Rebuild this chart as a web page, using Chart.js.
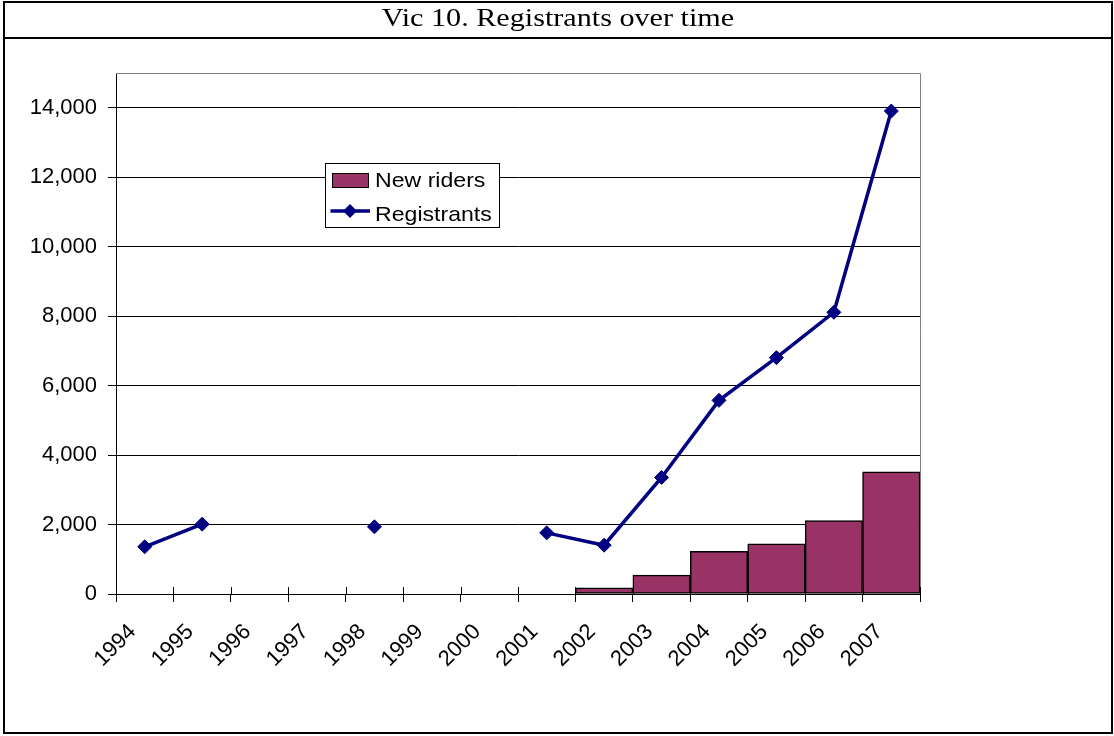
<!DOCTYPE html>
<html>
<head>
<meta charset="utf-8">
<script src="https://cdn.jsdelivr.net/npm/chart.js@4"></script>
<style>
  body { margin: 0; background: #fff; }
  #wrap { position: relative; width: 1114px; height: 736px; overflow: hidden; }
  #chart { position: absolute; left: 0; top: 0; }
  #frame { position: absolute; left: 3px; top: 1px; width: 1106px; height: 729px; border: 2px solid #000; pointer-events: none; }
  #title { height: 34px; border-bottom: 2px solid #000; text-align: center; line-height: 36px;
           font: 26px "Liberation Serif", "Times New Roman", serif; color: #000; }
  #title span { display: inline-block; transform: scaleX(1.16); }
  #legend { position: absolute; left: 325px; top: 163px; width: 175px; height: 65px; box-sizing: border-box;
            border: 1px solid #000; background: #fff; font: 21px "Liberation Sans", Arial, sans-serif; color: #000; }
  #legend .swatch { position: absolute; left: 6px; top: 9px; width: 37px; height: 15px; box-sizing: border-box;
                    background: #993366; border: 1px solid #000; }
  #legend .txt { position: absolute; left: 49px; line-height: 24px; white-space: nowrap;
                 transform: scaleX(1.1); transform-origin: left center; }
  #legend svg { position: absolute; left: 4px; top: 39px; }
</style>
</head>
<body>
<div id="wrap">
  <canvas id="chart" width="1114" height="736"></canvas>
  <div id="frame"><div id="title"><span>Vic 10. Registrants over time</span></div></div>
  <div id="legend">
    <div class="swatch"></div>
    <span class="txt" style="top:4px">New riders</span>
    <svg width="42" height="16" viewBox="0 0 42 16">
      <line x1="0.5" y1="8" x2="40" y2="8" stroke="#000080" stroke-width="3.5"/>
      <polygon points="20,1 27,8 20,15 13,8" fill="#000080"/>
    </svg>
    <span class="txt" style="top:38px">Registrants</span>
  </div>
</div>
<script>
const years = ['1994', '1995', '1996', '1997', '1998', '1999', '2000',
               '2001', '2002', '2003', '2004', '2005', '2006', '2007'];
const newRiders = [null, null, null, null, null, null, null, null, 180, 545, 1225, 1445, 2115, 3515];
const registrants = [1360, 2010, null, null, 1935, null, null, 1760, 1405, 3355, 5575, 6805, 8110, 13905];
const yTicks = [0, 2000, 4000, 6000, 8000, 10000, 12000, 14000];

const axisFont = { family: '"Liberation Sans", Arial, sans-serif', size: 22 };

// borde gris del area de trazado y marcas cruzadas del eje x
const plotFrame = {
  id: 'plotFrame',
  beforeDatasetsDraw(chart) {
    const { ctx, chartArea: a } = chart;
    ctx.save();
    ctx.strokeStyle = '#808080';
    ctx.lineWidth = 1;
    ctx.beginPath();
    ctx.moveTo(a.left, a.top + 0.5);
    ctx.lineTo(a.right + 0.5, a.top + 0.5);
    ctx.lineTo(a.right + 0.5, a.bottom);
    ctx.stroke();
    ctx.restore();
  },
  afterDraw(chart) {
    const { ctx, chartArea: a } = chart;
    const x = chart.scales.x;
    const half = (x.getPixelForValue(1) - x.getPixelForValue(0)) / 2;
    ctx.save();
    ctx.strokeStyle = '#000';
    ctx.lineWidth = 1;
    ctx.beginPath();
    for (let i = 0; i <= years.length; i++) {
      const px = Math.round(x.getPixelForValue(i) - half) + 0.5;
      ctx.moveTo(px, a.bottom - 7);
      ctx.lineTo(px, a.bottom);
    }
    ctx.stroke();
    ctx.restore();
  }
};

new Chart(document.getElementById('chart'), {
  type: 'bar',
  data: {
    labels: years,
    datasets: [{
      type: 'line',
      label: 'Registrants',
      data: registrants,
      borderColor: '#000080',
      borderWidth: 3.5,
      pointStyle: 'rectRot',
      pointRadius: 7,
      pointBackgroundColor: '#000080',
      pointBorderColor: '#000080',
      pointBorderWidth: 1,
      tension: 0,
      spanGaps: false,
      order: 0
    }, {
      type: 'bar',
      label: 'New riders',
      data: newRiders,
      backgroundColor: '#993366',
      borderColor: '#000',
      borderWidth: 1.5,
      borderSkipped: false,
      barPercentage: 1,
      categoryPercentage: 1,
      order: 1
    }]
  },
  options: {
    responsive: false,
    animation: false,
    devicePixelRatio: 1,
    layout: { padding: { top: 73, right: 194, left: 0, bottom: 0 } },
    plugins: { legend: { display: false }, tooltip: { enabled: false } },
    scales: {
      x: {
        offset: true,
        grid: { offset: true, drawOnChartArea: false, drawTicks: true, tickLength: 8, color: '#000', lineWidth: 1 },
        border: { color: '#000', width: 1 },
        ticks: { font: axisFont, color: '#000', minRotation: 45, maxRotation: 45, autoSkip: false,
                 padding: 17, labelOffset: -12 },
        afterFit: s => { s.height = 142; }
      },
      y: {
        min: 0,
        max: 15000,
        ticks: {
          stepSize: 2000,
          font: axisFont,
          color: '#000',
          padding: 11,
          callback: v => v.toLocaleString('en-US')
        },
        grid: { color: '#000', lineWidth: 1, tickLength: 8 },
        border: { color: '#000', width: 1 },
        afterBuildTicks: s => { s.ticks = yTicks.map(v => ({ value: v })); },
        afterFit: s => { s.width = 116; }
      }
    }
  },
  plugins: [plotFrame]
});
</script>
</body>
</html>
